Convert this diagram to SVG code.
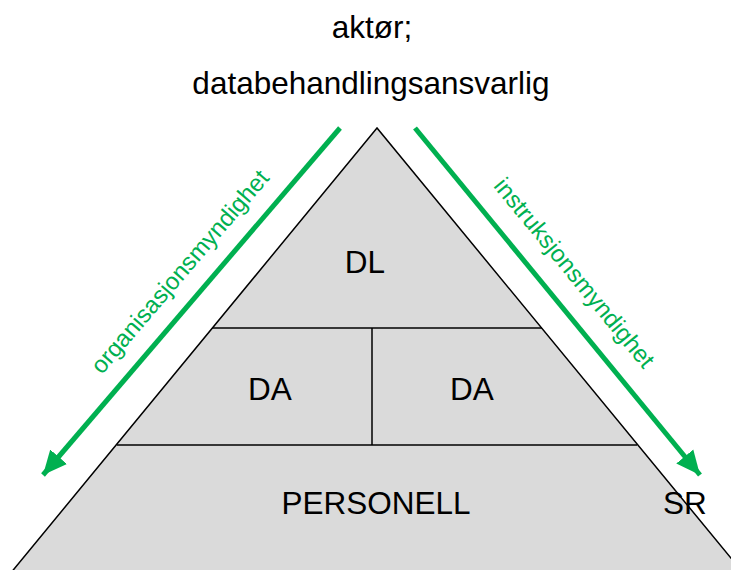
<svg xmlns="http://www.w3.org/2000/svg" width="731" height="570" viewBox="0 0 731 570">
<style>
.lbl{font-family:"Liberation Sans",Arial,sans-serif;font-size:31.5px;fill:#000;text-anchor:middle}
.grn{font-family:"Liberation Sans",Arial,sans-serif;font-size:24px;fill:#00b050;text-anchor:middle}
.edge{stroke:#000;stroke-width:1.5;fill:none}
.arr{stroke:#00b050;stroke-width:5;fill:none}
</style>
<defs>
<marker id="ah" markerUnits="userSpaceOnUse" markerWidth="26" markerHeight="26" viewBox="0 0 26 26" refX="24" refY="13" orient="auto">
<path d="M0,2 L24,13 L0,24 Z" fill="#00b050"/>
</marker>
</defs>
<rect width="731" height="570" fill="#fff"/>
<g id="title">
<text class="lbl" x="372" y="38">aktør;</text>
<text class="lbl" x="371" y="94">databehandlingsansvarlig</text>
</g>
<g id="pyramid">
<polygon points="377,128 5,580 749,580" fill="#dadada" stroke="#000" stroke-width="1.5"/>
</g>
<g id="dl">
<line class="edge" x1="212" y1="328" x2="542" y2="328"/>
<text class="lbl" x="365" y="273">DL</text>
</g>
<g id="da-left">
<line class="edge" x1="372" y1="328" x2="372" y2="445"/>
<text class="lbl" x="270" y="400">DA</text>
</g>
<g id="da-right">
<text class="lbl" x="472" y="400">DA</text>
</g>
<g id="personell">
<line class="edge" x1="117" y1="445" x2="637" y2="445"/>
<text class="lbl" x="376" y="514">PERSONELL</text>
</g>
<g id="sr">
<text class="lbl" x="685" y="514">SR</text>
</g>
<g id="connectors">
<line class="arr" x1="340" y1="128" x2="43" y2="475" marker-end="url(#ah)"/>
<line class="arr" x1="415" y1="128" x2="700" y2="475" marker-end="url(#ah)"/>
<text class="grn" transform="translate(186,277) rotate(-49.4)">organisasjonsmyndighet</text>
<text class="grn" transform="translate(568,278) rotate(50.6)">instruksjonsmyndighet</text>
</g>
</svg>
